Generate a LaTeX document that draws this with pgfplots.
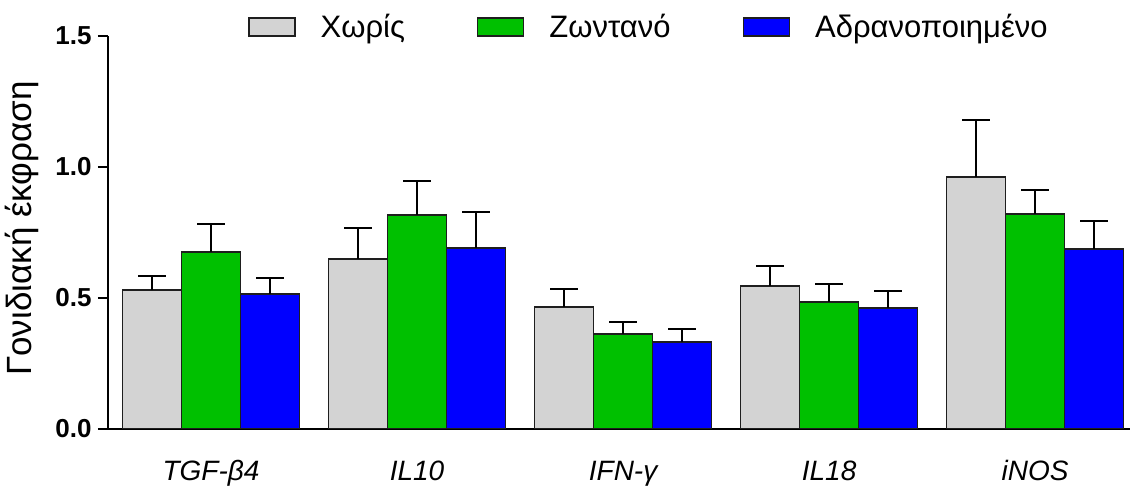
\documentclass[border=0pt]{standalone}
\usepackage{pgfplots}
\pgfplotsset{compat=1.18}
\usepackage{fontspec}
\setmainfont{Liberation Sans}
\definecolor{cgray}{RGB}{211,211,211}
\definecolor{cgreen}{RGB}{0,192,0}
\definecolor{cblue}{RGB}{0,0,255}
\definecolor{cedge}{RGB}{30,30,30}
\begin{document}
\begin{tikzpicture}
\useasboundingbox (0pt,0pt) rectangle (1130pt,486pt);
\begin{axis}[
  at={(108pt,57pt)}, anchor=south west,
  scale only axis, width=1022pt, height=393pt,
  xmin=-0.5, xmax=4.46, ymin=0, ymax=1.5,
  axis x line=bottom, axis y line=left,
  axis line style={-, line width=2pt, black},
  ytick={0,0.5,1,1.5}, yticklabels={0.0,0.5,1.0,1.5},
  yticklabel style={font=\fontsize{26}{26}\selectfont\bfseries, xshift=-3pt},
  tick align=outside, major tick length=10pt,
  tick style={line width=2pt, black},
  xtick={0,1,2,3,4},
  xticklabels={TGF-β4, IL10, IFN-γ, IL18, iNOS},
  x tick style={draw=none},
  xticklabel style={font=\fontsize{28}{28}\selectfont\itshape, anchor=base, yshift=-42pt},
  ybar=0pt, bar width=59pt,
  ylabel={Γονιδιακή έκφραση},
  ylabel style={font=\fontsize{35}{35}\selectfont, at={(axis description cs:-0.084,0.51)}, anchor=center},
  legend columns=3,
  legend style={draw=none, fill=none, at={(axis description cs:0.134,1.023)}, anchor=west,
    font=\fontsize{31}{31}\selectfont,
    /tikz/every odd column/.append style={column sep=23pt},
    /tikz/every even column/.append style={column sep=70pt}},
  legend image code/.code={\draw[#1, line width=1.5pt] (0pt,-9pt) rectangle (46pt,9pt);},
  error bars/error bar style={line width=2pt, black},
  error bars/error mark options={line width=2pt, black, mark size=14pt, rotate=90},
]
\addplot[fill=cgray, draw=cedge, line width=1.5pt, error bars/.cd, y dir=plus, y explicit]
 coordinates {(0,0.530) +- (0,0.054) (1,0.649) +- (0,0.118) (2,0.466) +- (0,0.068) (3,0.546) +- (0,0.076) (4,0.962) +- (0,0.217)};
\addplot[fill=cgreen, draw=cedge, line width=1.5pt, error bars/.cd, y dir=plus, y explicit]
 coordinates {(0,0.676) +- (0,0.106) (1,0.817) +- (0,0.130) (2,0.363) +- (0,0.045) (3,0.485) +- (0,0.068) (4,0.821) +- (0,0.091)};
\addplot[fill=cblue, draw=cedge, line width=1.5pt, error bars/.cd, y dir=plus, y explicit]
 coordinates {(0,0.515) +- (0,0.061) (1,0.691) +- (0,0.137) (2,0.332) +- (0,0.050) (3,0.462) +- (0,0.065) (4,0.687) +- (0,0.107)};
\legend{Χωρίς, Ζωντανό, Αδρανοποιημένο}
\end{axis}
\end{tikzpicture}
\end{document}
